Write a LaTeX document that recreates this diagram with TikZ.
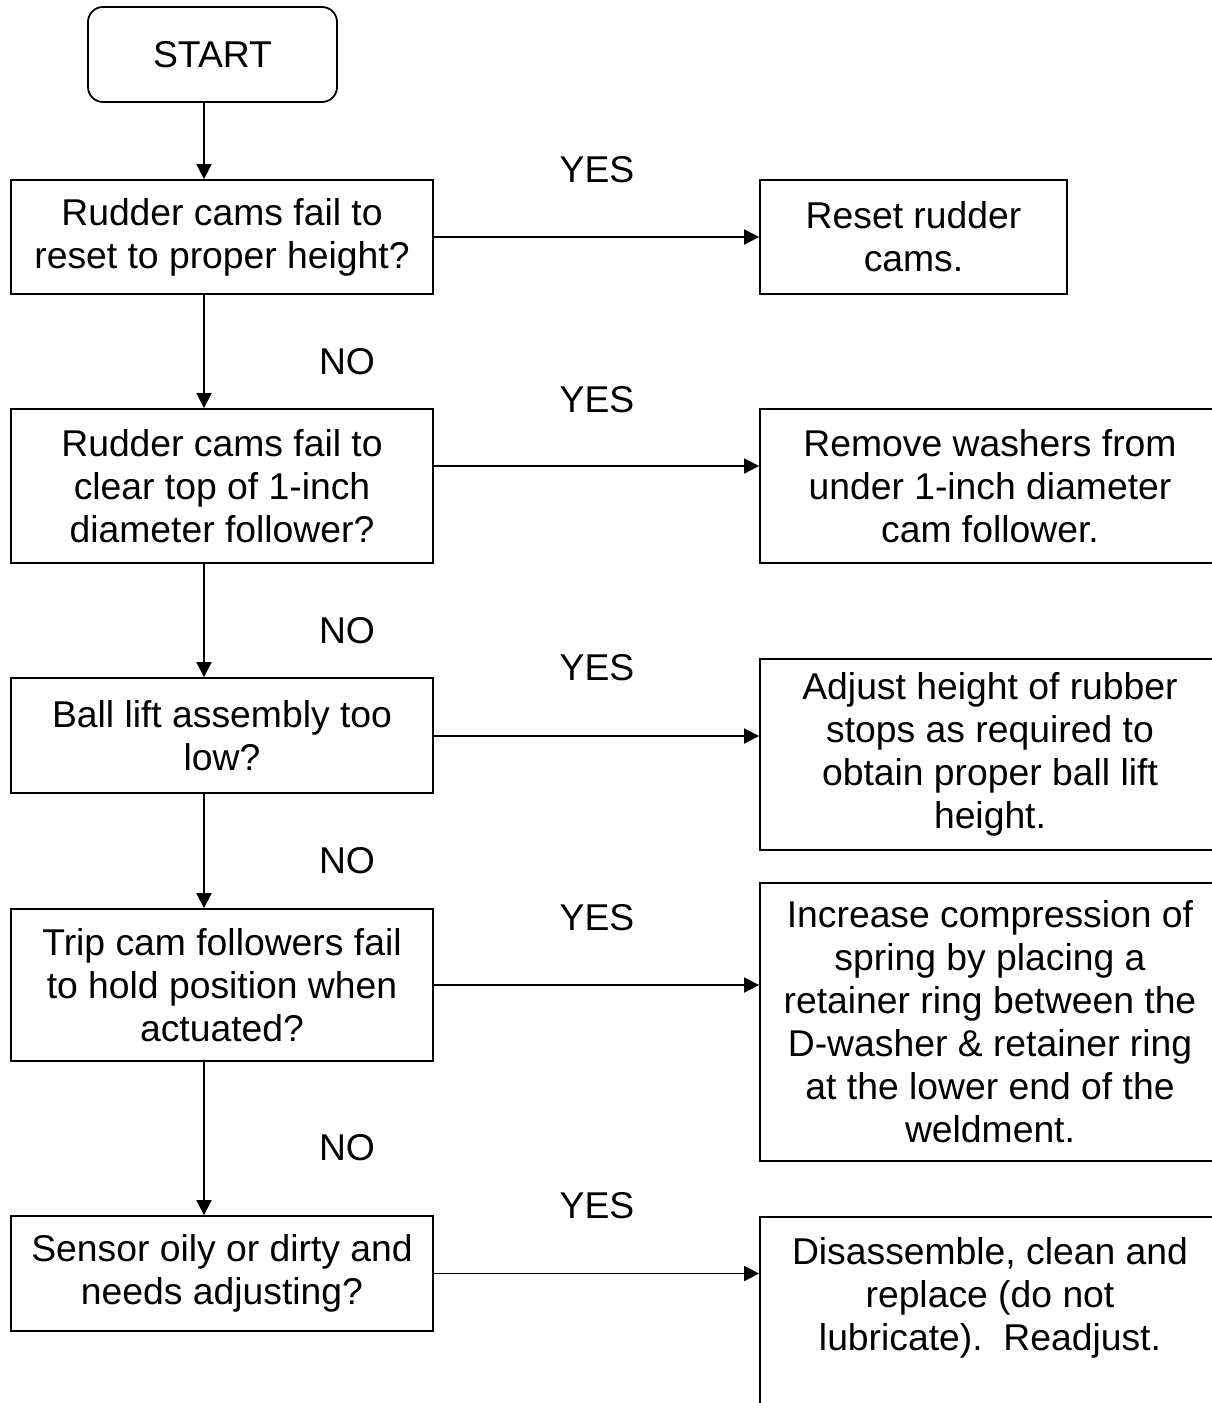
\documentclass[tikz,border=0pt]{standalone}
\usepackage{fontspec}
\setmainfont{Liberation Sans}
\usetikzlibrary{arrows.meta,positioning}
\newcommand{\storfont}{\fontsize{37.3pt}{43pt}\selectfont}
\tikzset{
    >={Triangle[length=15pt,width=15pt]},
    start/.style={
           rectangle, rounded corners=15pt,
           draw=black, line width=1.8pt,
           minimum width=249pt, minimum height=95pt,
           inner sep=0pt,
           text centered},
    spm/.style={
           rectangle,
           draw=black, line width=1.8pt,
           minimum width=422pt,
           inner sep=0pt,
           align=center},
    tiltak/.style={
           rectangle,
           draw=black, line width=1.8pt,
           inner sep=0pt,
           align=center},
    pil/.style={
           ->,
           line width=1.8pt},
    merk/.style={inner sep=0pt}
}

\begin{document}
\begin{tikzpicture}[x=1pt, y=-1pt, every node/.style={font=\storfont}]
        \useasboundingbox (0,0) rectangle (1212,1403);
        \clip (0,0) rectangle (1212,1403);

        % spoersmaal
        \node[start] (start) at (212.5,54.5) {START};
        \node[spm, minimum height=114pt] (q1) at (222,237) {Rudder cams fail to\\reset to proper height?};
        \node[spm, minimum height=154pt] (q2) at (222,486) {Rudder cams fail to\\clear top of 1-inch\\diameter follower?};
        \node[spm, minimum height=115pt] (q3) at (222,735.5) {Ball lift assembly too\\low?};
        \node[spm, minimum height=152pt] (q4) at (222,985) {Trip cam followers fail\\to hold position when\\actuated?};
        \node[spm, minimum height=115pt] (q5) at (222,1273.5) {Sensor oily or dirty and\\needs adjusting?};

        % tiltak
        \node[tiltak, minimum width=307pt, minimum height=114pt] (a1) at (913.5,237) {Reset rudder\\cams.\rule[-2pt]{0pt}{0pt}};
        \node[tiltak, minimum width=460pt, minimum height=154pt] (a2) at (990,486) {Remove washers from\\under 1-inch diameter\\cam follower.};
        \node[tiltak, minimum width=460pt, minimum height=191pt] (a3) at (990,754.5) {Adjust height of rubber\\stops as required to\\obtain proper ball lift\\height.};
        \node[tiltak, minimum width=460pt, minimum height=278pt] (a4) at (990,1022) {Increase compression of\\spring by placing a\\retainer ring between the\\D-washer \& retainer ring\\at the lower end of the\\weldment.};
        \node[tiltak, minimum width=460pt, inner ysep=21pt, anchor=north] (a5) at (990,1216) {Disassemble, clean and\\replace (do not\\lubricate).\ \ Readjust.\\[80pt]\mbox{}};

        % merker
        \foreach \i/\y in {1/170,2/400,3/668,4/918,5/1206}
            \node[merk] (y\i) at (597,\y) {YES};
        \foreach \i/\y in {1/362,2/631,3/861,4/1148}
            \node[merk] (n\i) at (347,\y) {NO};

        \draw[pil] ([xshift=-8.5pt]start.south) -- ([xshift=-18pt]q1.north);
        \foreach \a/\b in {q1/q2,q2/q3,q3/q4,q4/q5}
            \draw[pil] ([xshift=-18pt]\a.south) -- ([xshift=-18pt]\b.north);
        \foreach \i/\s in {1/0,2/20,3/-0.5,4/0,5/0}
            \draw[pil] ([yshift=\s pt]q\i.east) -- ([yshift=\s pt]q\i.east -| a\i.west);

    \end{tikzpicture}
\end{document}
